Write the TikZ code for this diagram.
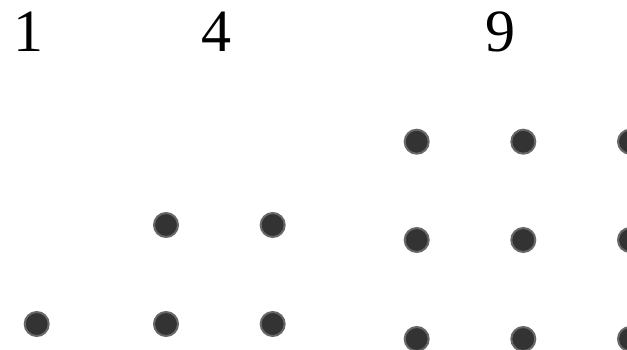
\documentclass[tikz,border=0pt]{standalone}
\usepackage{fontspec}
\setmainfont{Liberation Serif}
\usetikzlibrary{positioning}
\definecolor{DotFill}{HTML}{333333}
\definecolor{DotRim}{HTML}{686868}

\tikzset{
  dot/.style={circle,fill=DotFill,draw=DotRim,line width=2pt,
    minimum size=24pt,inner sep=0pt},
  count/.style={anchor=base,font=\fontsize{60}{60}\selectfont}
}

\begin{document}
\begin{tikzpicture}[x=1pt,y=-1pt]
        \useasboundingbox (0,0) rectangle (627,350);
        \clip (0,0) rectangle (627,350);

        % labels
        \node[count] (one) at (28,52) {1};
        \node[count] (four) at (216.5,52) {4};
        \node[count] (nine) at (500,52) {9};

        % 1
        \node[dot] (a-1-1) at (36.7,324) {};

        % 4
        \foreach \i/\y in {1/225,2/324}
          \foreach \j/\x in {1/166,2/272.7}
            \node[dot] (b-\i-\j) at (\x,\y) {};

        % 9
        \foreach \i/\y in {1/141.7,2/240,3/339}
          \foreach \j/\x in {1/416.7,2/523.3,3/630}
            \node[dot] (c-\i-\j) at (\x,\y) {};
      \end{tikzpicture}
\end{document}
